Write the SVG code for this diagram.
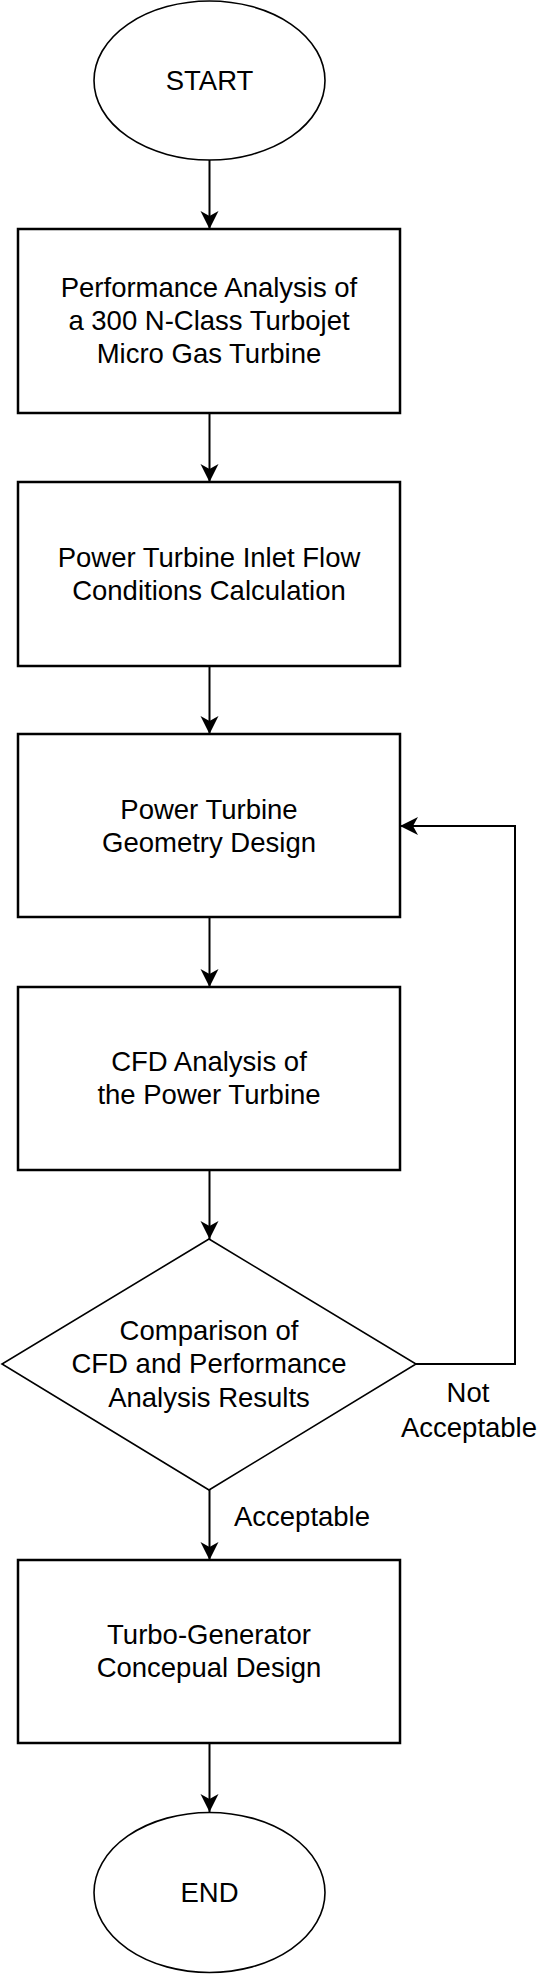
<svg xmlns="http://www.w3.org/2000/svg" width="537" height="1974" viewBox="0 0 537 1974">
<style>
.box{fill:#fff;stroke:#000;stroke-width:2.5}
.term{fill:#fff;stroke:#000;stroke-width:1.6}
.dec{fill:#fff;stroke:#000;stroke-width:1.6}
.edge{fill:none;stroke:#000;stroke-width:2}
text{font-family:"Liberation Sans",Arial,sans-serif;font-size:27.5px;fill:#000;text-anchor:middle}
</style>
<defs>
<marker id="arr" markerUnits="userSpaceOnUse" markerWidth="20" markerHeight="20" viewBox="-18 -10 20 20" refX="0" refY="0" orient="auto">
<path d="M0,0 L-18,-9 L-13,0 L-18,9 Z" fill="#000"/>
</marker>
</defs>
<rect width="537" height="1974" fill="#fff"/>
<g id="connectors">
<path class="edge" d="M209.5,160 V229" marker-end="url(#arr)"/>
<path class="edge" d="M209.5,413 V482" marker-end="url(#arr)"/>
<path class="edge" d="M209.5,666 V734" marker-end="url(#arr)"/>
<path class="edge" d="M209.5,917 V987" marker-end="url(#arr)"/>
<path class="edge" d="M209.5,1170 V1239" marker-end="url(#arr)"/>
<path class="edge" d="M209.5,1490 V1560" marker-end="url(#arr)"/>
<path class="edge" d="M209.5,1743 V1812" marker-end="url(#arr)"/>
<path class="edge" d="M416,1364 H515 V826 H400" marker-end="url(#arr)"/>
<text x="302" y="1526">Acceptable</text>
<text x="468" y="1402">Not</text>
<text x="469" y="1437">Acceptable</text>
</g>
<g id="start">
<ellipse class="term" cx="209.5" cy="80.5" rx="115.5" ry="79.5"/>
<text x="209.5" y="90">START</text>
</g>
<g id="performance">
<rect class="box" x="18" y="229" width="382" height="184"/>
<text x="209" y="297">Performance Analysis of</text>
<text x="209" y="330">a 300 N-Class Turbojet</text>
<text x="209" y="363">Micro Gas Turbine</text>
</g>
<g id="inlet">
<rect class="box" x="18" y="482" width="382" height="184"/>
<text x="209" y="567">Power Turbine Inlet Flow</text>
<text x="209" y="600">Conditions Calculation</text>
</g>
<g id="geometry">
<rect class="box" x="18" y="734" width="382" height="183"/>
<text x="209" y="819">Power Turbine</text>
<text x="209" y="852">Geometry Design</text>
</g>
<g id="cfd">
<rect class="box" x="18" y="987" width="382" height="183"/>
<text x="209" y="1071">CFD Analysis of</text>
<text x="209" y="1104">the Power Turbine</text>
</g>
<g id="comparison">
<polygon class="dec" points="209,1239 416,1364 209,1490 2,1364"/>
<text x="209" y="1340">Comparison of</text>
<text x="209" y="1373">CFD and Performance</text>
<text x="209" y="1407">Analysis Results</text>
</g>
<g id="turbogen">
<rect class="box" x="18" y="1560" width="382" height="183"/>
<text x="209" y="1644">Turbo-Generator</text>
<text x="209" y="1677">Concepual Design</text>
</g>
<g id="end">
<ellipse class="term" cx="209.5" cy="1892.5" rx="115.5" ry="80"/>
<text x="209.5" y="1902">END</text>
</g>
</svg>
